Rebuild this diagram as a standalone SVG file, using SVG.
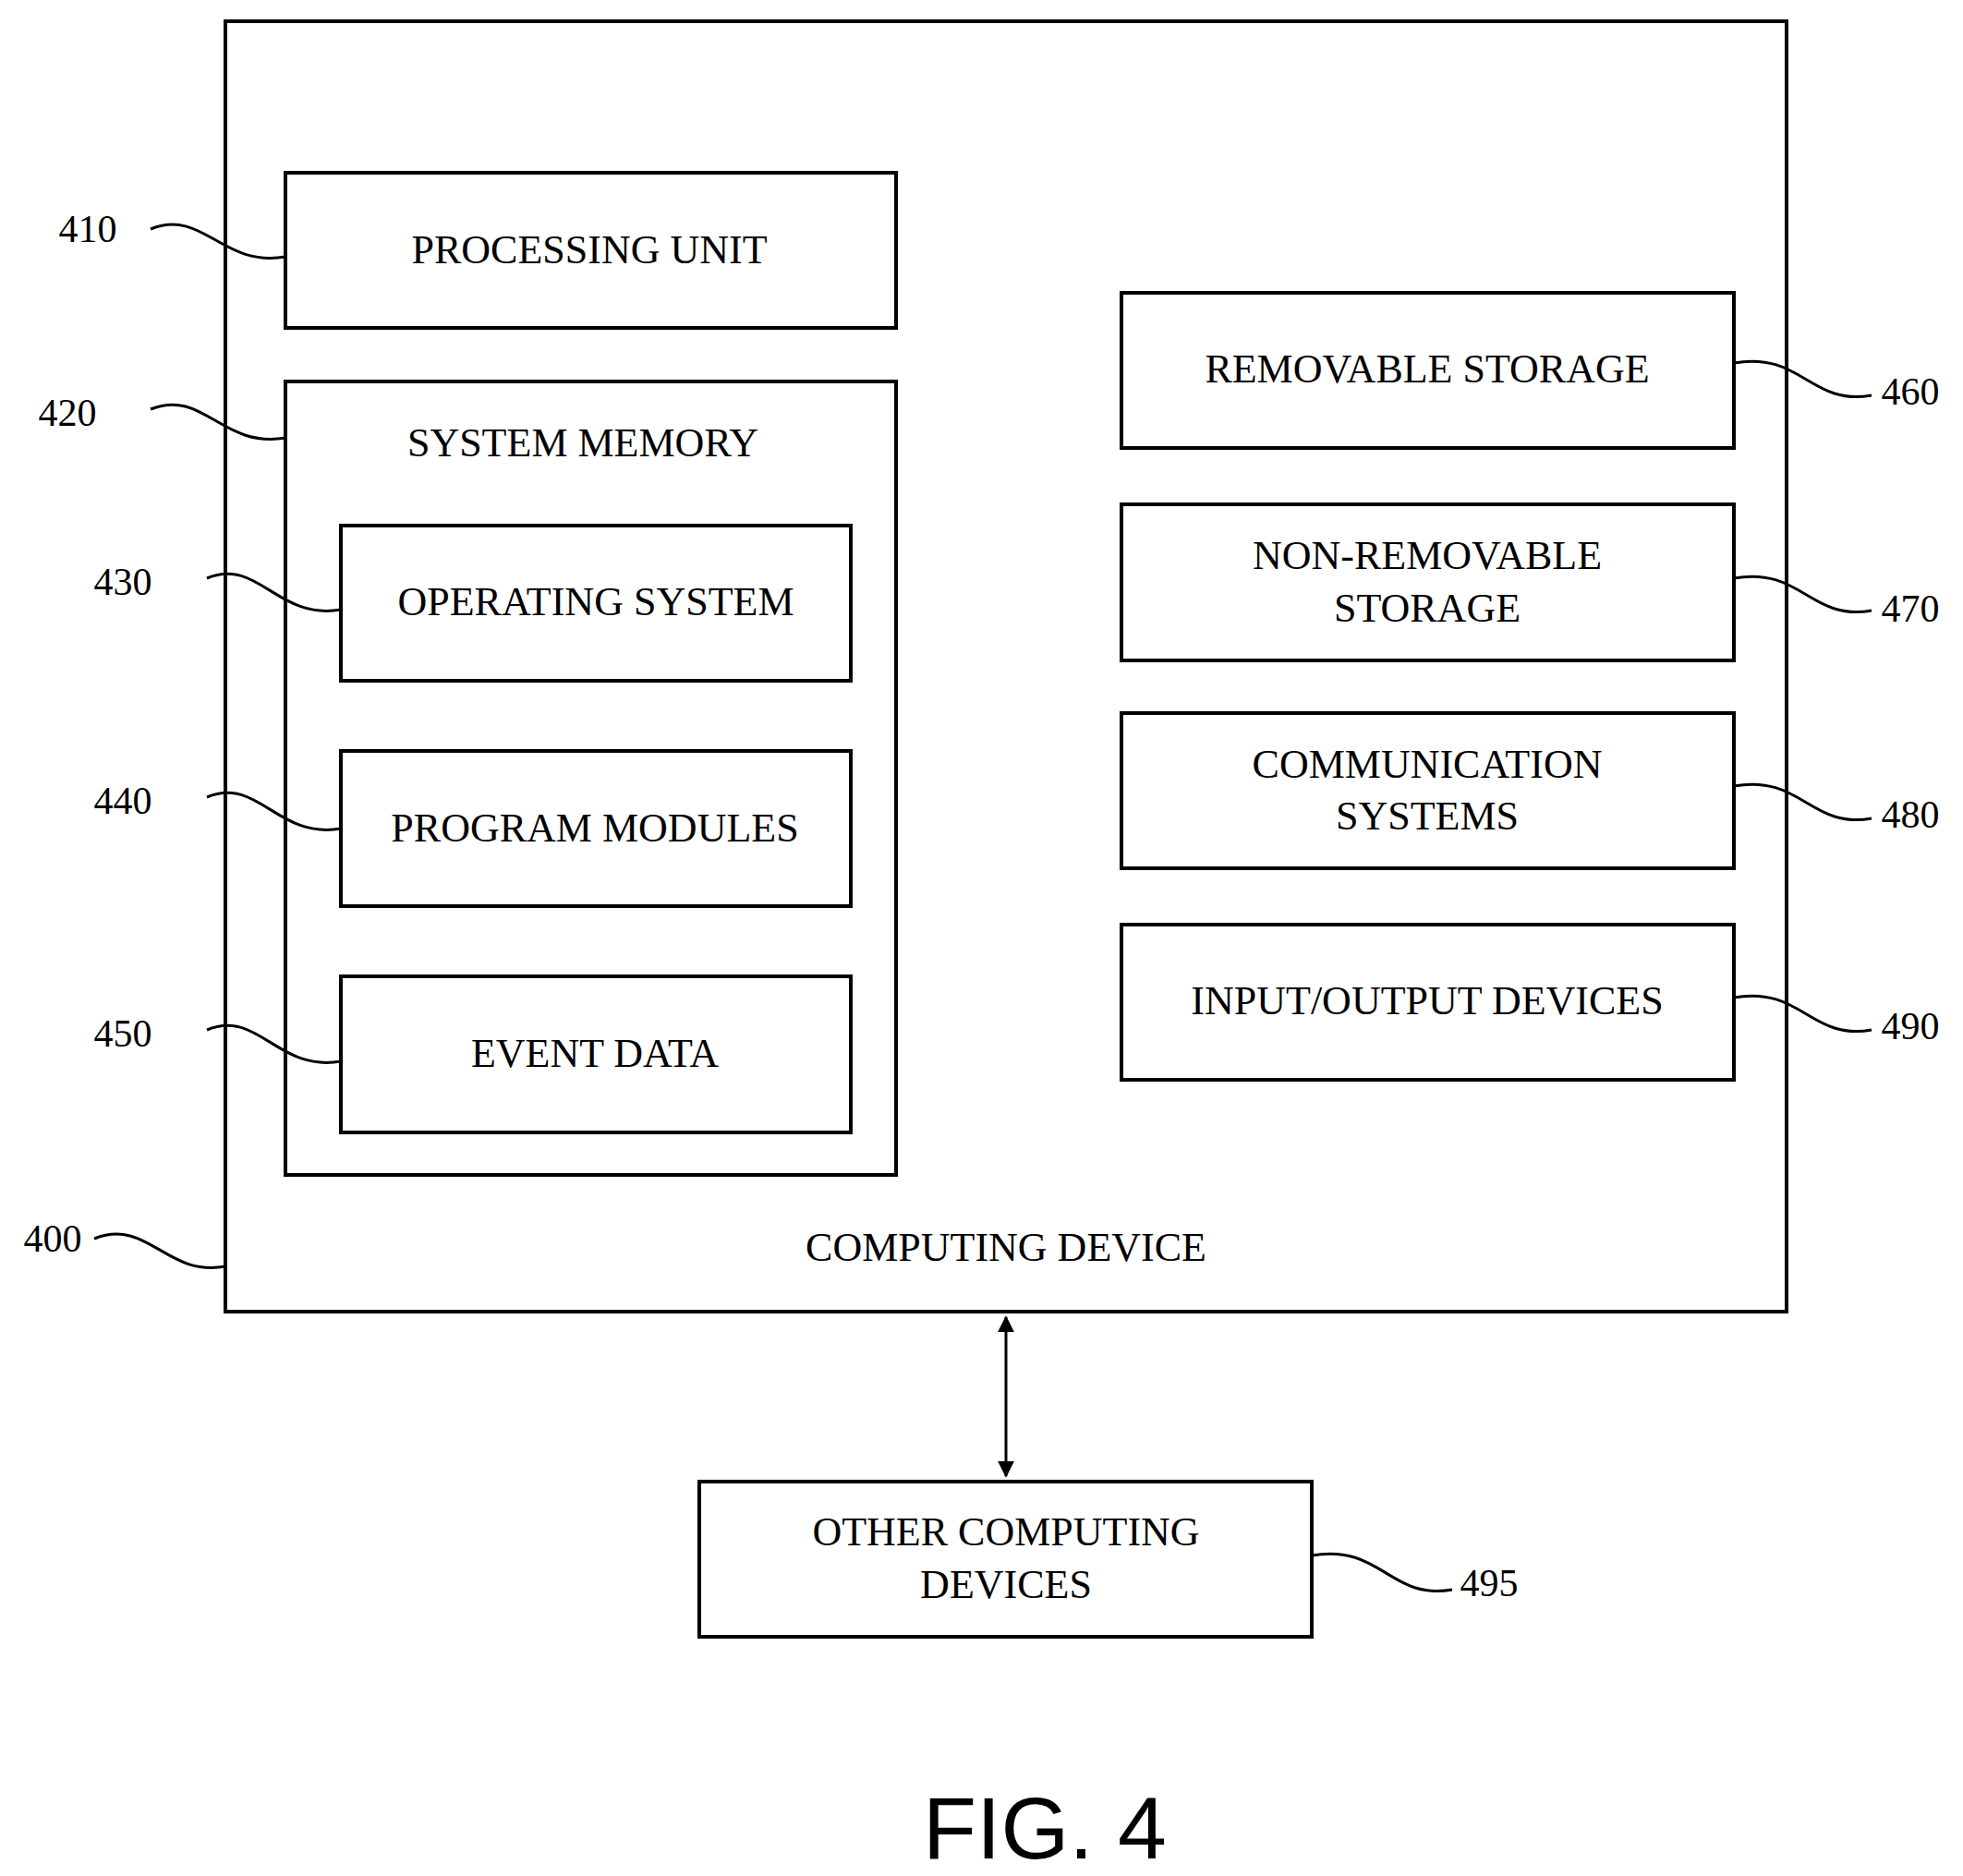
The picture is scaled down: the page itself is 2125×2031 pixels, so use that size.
<svg xmlns="http://www.w3.org/2000/svg" width="2125" height="2031" viewBox="0 0 2125 2031">
<style>
.b{fill:#fff;stroke:#000;stroke-width:4}
.t{font-family:"Liberation Serif",serif;font-size:44px;text-anchor:middle;fill:#000}
.n{font-family:"Liberation Serif",serif;font-size:42px;text-anchor:middle;fill:#000}
.l{fill:none;stroke:#000;stroke-width:3}
</style>
<defs><marker id="a" viewBox="0 0 10 10" refX="9" refY="5" markerWidth="6" markerHeight="6" orient="auto-start-reverse"><path d="M0,0 L10,5 L0,10 Z" fill="#000"/></marker></defs>
<rect width="2125" height="2031" fill="#fff"/>
<g id="n400"><rect class="b" x="244" y="23" width="1690" height="1397"/><text class="t" x="1089" y="1365">COMPUTING DEVICE</text></g>
<g id="n410"><rect class="b" x="309" y="187" width="661" height="168"/><text class="t" x="638" y="285">PROCESSING UNIT</text></g>
<g id="n420"><rect class="b" x="309" y="413" width="661" height="859"/><text class="t" x="631" y="494">SYSTEM MEMORY</text></g>
<g id="n430"><rect class="b" x="369" y="569" width="552" height="168"/><text class="t" x="645" y="666">OPERATING SYSTEM</text></g>
<g id="n440"><rect class="b" x="369" y="813" width="552" height="168"/><text class="t" x="644" y="911">PROGRAM MODULES</text></g>
<g id="n450"><rect class="b" x="369" y="1057" width="552" height="169"/><text class="t" x="644" y="1155">EVENT DATA</text></g>
<g id="n460"><rect class="b" x="1214" y="317" width="663" height="168"/><text class="t" x="1545" y="414">REMOVABLE STORAGE</text></g>
<g id="n470"><rect class="b" x="1214" y="546" width="663" height="169"/><text class="t" x="1545" y="616">NON-REMOVABLE</text><text class="t" x="1545" y="673">STORAGE</text></g>
<g id="n480"><rect class="b" x="1214" y="772" width="663" height="168"/><text class="t" x="1545" y="842">COMMUNICATION</text><text class="t" x="1545" y="898">SYSTEMS</text></g>
<g id="n490"><rect class="b" x="1214" y="1001" width="663" height="168"/><text class="t" x="1545" y="1098">INPUT/OUTPUT DEVICES</text></g>
<g id="n495"><rect class="b" x="757" y="1604" width="663" height="168"/><text class="t" x="1089" y="1673">OTHER COMPUTING</text><text class="t" x="1089" y="1730">DEVICES</text></g>
<g id="connectors">
<line class="l" x1="1089" y1="1426" x2="1089" y2="1598" stroke-width="4" marker-start="url(#a)" marker-end="url(#a)"/>
<path class="l" d="M163,248 C220,225 240,290 309,278"/>
<path class="l" d="M163,443 C220,420 240,486 309,474"/>
<path class="l" d="M224,626 C280,603 300,672 369,660"/>
<path class="l" d="M224,863 C280,840 300,909 369,897"/>
<path class="l" d="M224,1115 C280,1092 300,1161 369,1149"/>
<path class="l" d="M102,1341 C160,1318 180,1383 244,1371"/>
<path class="l" d="M1877,393 C1950,380 1960,440 2026,428"/>
<path class="l" d="M1877,626 C1950,613 1960,673 2026,661"/>
<path class="l" d="M1877,851 C1950,838 1960,898 2026,886"/>
<path class="l" d="M1877,1080 C1950,1067 1960,1127 2026,1115"/>
<path class="l" d="M1420,1684 C1495,1671 1505,1733 1572,1721"/>
</g>
<g id="labels">
<text class="n" x="95" y="262">410</text>
<text class="n" x="73" y="461">420</text>
<text class="n" x="133" y="644">430</text>
<text class="n" x="133" y="881">440</text>
<text class="n" x="133" y="1133">450</text>
<text class="n" x="57" y="1355">400</text>
<text class="n" x="2068" y="438">460</text>
<text class="n" x="2068" y="673">470</text>
<text class="n" x="2068" y="896">480</text>
<text class="n" x="2068" y="1125">490</text>
<text class="n" x="1612" y="1728">495</text>
<text x="1131" y="2012" font-family="Liberation Sans,sans-serif" font-size="95" text-anchor="middle">FIG. 4</text>
</g>
</svg>
